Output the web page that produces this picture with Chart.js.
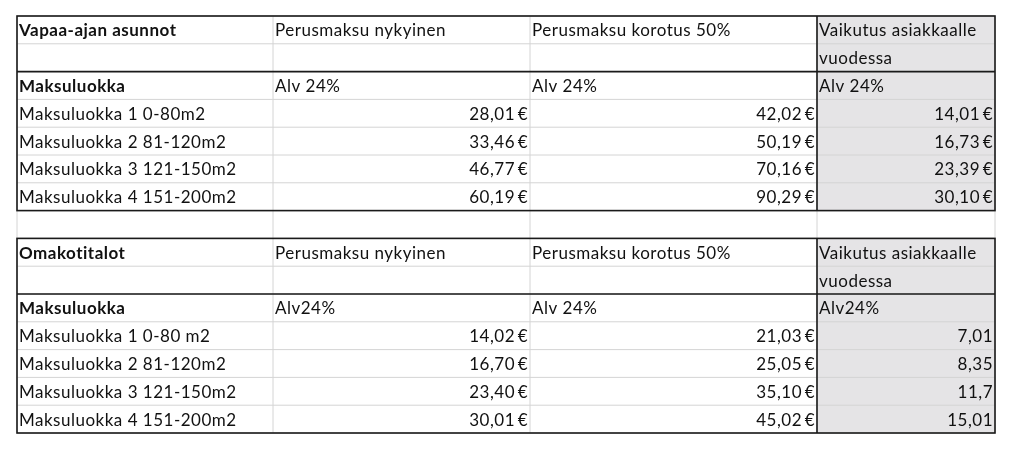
<!DOCTYPE html>
<html><head><meta charset="utf-8">
<script src="https://cdn.jsdelivr.net/npm/chart.js@4"></script>
<style>html,body{margin:0;padding:0;background:#fff}#wrap{width:1034px;height:465px}</style>
</head><body><div id="wrap"><canvas id="c"></canvas></div>
<script>
"use strict";
// data
const luokat1 = ["Maksuluokka 1 0-80m2","Maksuluokka 2 81-120m2","Maksuluokka 3 121-150m2","Maksuluokka 4 151-200m2"];
const luokat2 = ["Maksuluokka 1 0-80 m2","Maksuluokka 2 81-120m2","Maksuluokka 3 121-150m2","Maksuluokka 4 151-200m2"];
const nykyinen1 = [28.01, 33.46, 46.77, 60.19];
const korotus1 = [42.02, 50.19, 70.16, 90.29];
const vaikutus1 = [14.01, 16.73, 23.39, 30.10];
const nykyinen2 = [14.02, 16.70, 23.40, 30.01];
const korotus2 = [21.03, 25.05, 35.10, 45.02];
const vaikutus2 = ["7,01", "8,35", "11,7", "15,01"];
const otsikot = ["Perusmaksu nykyinen", "Perusmaksu korotus 50%", "Vaikutus asiakkaalle"];

const eur = v => v.toFixed(2).replace(".", ",") + "\u2009€";
// column widths in x units (layout)
const colW = [256, 257, 287, 178];
const colX = [0]; colW.forEach(w => colX.push(colX[colX.length-1] + w));

// build cell table: rows 0..14
const rows = [];
function taulu(nimi, luokat, a, b, c, cStr, alv) {
  rows.push([{t:nimi,b:true}, {t:otsikot[0]}, {t:otsikot[1]}, {t:otsikot[2]}]);
  rows.push([{}, {}, {}, {t:"vuodessa"}]);
  rows.push([{t:"Maksuluokka",b:true}, {t:alv[0]}, {t:"Alv 24%"}, {t:alv[1]}]);
  luokat.forEach((l, i) => rows.push([{t:l}, {t:eur(a[i]),r:true}, {t:eur(b[i]),r:true}, {t:cStr ? c[i] : eur(c[i]), r:true}]));
}
taulu("Vapaa-ajan asunnot", luokat1, nykyinen1, korotus1, vaikutus1, false, ["Alv 24%", "Alv 24%"]);
rows.push([{}, {}, {}, {}]);
taulu("Omakotitalot", luokat2, nykyinen2, korotus2, vaikutus2, true, ["Alv24%", "Alv24%"]);

const tablePlugin = {
  id: "table",
  afterDraw(chart) {
    const ctx = chart.ctx, xs = chart.scales.x, ys = chart.scales.y;
    const X = v => xs.getPixelForValue(v), Y = v => ys.getPixelForValue(v);
    ctx.save();
    // gray fill
    ctx.fillStyle = "#e5e4e6";
    [[0,7],[8,15]].forEach(([a,b]) => ctx.fillRect(X(colX[3]), Y(a), X(colX[4]) - X(colX[3]), Y(b) - Y(a)));
    // light grid
    ctx.strokeStyle = "#d4d4d4"; ctx.lineWidth = 1;
    for (let r = 0; r <= 15; r++) { ctx.beginPath(); ctx.moveTo(X(0), Y(r)); ctx.lineTo(X(colX[4]), Y(r)); ctx.stroke(); }
    for (let c = 0; c <= 4; c++) { ctx.beginPath(); ctx.moveTo(X(colX[c]), Y(0)); ctx.lineTo(X(colX[c]), Y(15)); ctx.stroke(); }
    // black borders
    ctx.strokeStyle = "#1a1a1a"; ctx.lineWidth = 1.6;
    [0, 8].forEach(s => {
      ctx.strokeRect(X(0), Y(s), X(colX[4]) - X(0), Y(s+7) - Y(s));
      ctx.beginPath(); ctx.moveTo(X(0), Y(s+2)); ctx.lineTo(X(colX[4]), Y(s+2));
      ctx.moveTo(X(colX[3]), Y(s)); ctx.lineTo(X(colX[3]), Y(s+7)); ctx.stroke();
    });
    // text
    ctx.fillStyle = "#111"; ctx.textBaseline = "middle";
    ctx.letterSpacing = "0.5px";
    rows.forEach((row, r) => row.forEach((cell, c) => {
      if (!cell.t) return;
      ctx.font = (cell.b ? "bold " : "") + "17px Lato, 'Open Sans', sans-serif";
      const y = (Y(r) + Y(r+1)) / 2 + 1;
      if (cell.r) { ctx.textAlign = "right"; ctx.fillText(cell.t, X(colX[c+1]) - 2, y); }
      else { ctx.textAlign = "left"; ctx.fillText(cell.t, X(colX[c]) + 2, y); }
    }));
    ctx.restore();
  }
};

new Chart(document.getElementById("c"), {
  type: "scatter",
  data: { datasets: [{ data: [], pointRadius: 0 }] },
  options: {
    responsive: true, maintainAspectRatio: false, animation: false,
    layout: { padding: { left: 17, right: 39, top: 16, bottom: 32 } },
    plugins: { legend: { display: false }, tooltip: { enabled: false } },
    scales: {
      x: { type: "linear", min: 0, max: colX[4], display: false },
      y: { type: "linear", min: 0, max: 15, reverse: true, display: false }
    }
  },
  plugins: [tablePlugin]
});
</script></body></html>
